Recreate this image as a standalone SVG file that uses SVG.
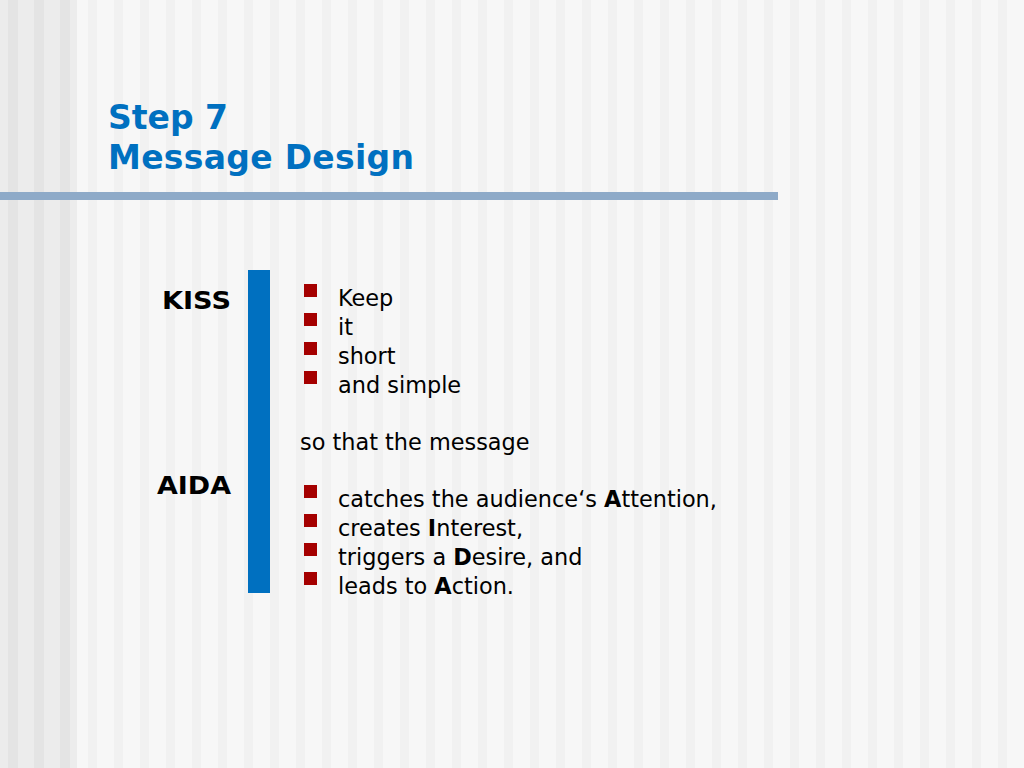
<svg xmlns="http://www.w3.org/2000/svg" width="1024" height="768" viewBox="0 0 1024 768">
<defs>
<pattern id="stripesL" x="0" y="0" width="26" height="768" patternUnits="userSpaceOnUse">
<rect x="0" y="0" width="26" height="768" fill="#ececec"/>
<rect x="8" y="0" width="10" height="768" fill="#e4e4e4"/>
</pattern>
<pattern id="stripesR" x="0" y="0" width="26" height="768" patternUnits="userSpaceOnUse">
<rect x="0" y="0" width="26" height="768" fill="#f7f7f7"/>
<rect x="10" y="0" width="9" height="768" fill="#f1f1f1"/>
</pattern>
<style>
.title{font-family:"DejaVu Sans",Verdana,sans-serif;font-weight:bold;font-size:33px;fill:#0070c0}
.lbl{font-family:"DejaVu Sans",Verdana,sans-serif;font-weight:bold;font-size:24px;fill:#000}
.body{font-family:"DejaVu Sans",Verdana,sans-serif;font-size:22.4px;fill:#000}
.bul{fill:#a50000}
</style>
</defs>
<rect x="0" y="0" width="1024" height="768" fill="url(#stripesR)"/>
<rect x="0" y="0" width="77" height="768" fill="url(#stripesL)"/>
<rect x="0" y="192" width="778" height="8" fill="#8eaac8"/>
<g id="title">
<text class="title" x="108" y="129">Step 7</text>
<text class="title" x="108" y="169" textLength="306">Message Design</text>
</g>
<g id="kiss"><text class="lbl" x="162" y="309" textLength="69" lengthAdjust="spacingAndGlyphs">KISS</text></g>
<g id="aida"><text class="lbl" x="157" y="494" textLength="74" lengthAdjust="spacingAndGlyphs">AIDA</text></g>
<g id="bar"><rect x="248" y="270" width="22" height="323" fill="#0070c0"/></g>
<g id="kiss-list">
<rect class="bul" x="304" y="284" width="13" height="13"/>
<rect class="bul" x="304" y="313" width="13" height="13"/>
<rect class="bul" x="304" y="342" width="13" height="13"/>
<rect class="bul" x="304" y="371" width="13" height="13"/>
<text class="body" x="338" y="306">Keep</text>
<text class="body" x="338" y="335">it</text>
<text class="body" x="338" y="364">short</text>
<text class="body" x="338" y="393">and simple</text>
</g>
<g id="middle"><text class="body" x="300" y="450">so that the message</text></g>
<g id="aida-list">
<rect class="bul" x="304" y="485" width="13" height="13"/>
<rect class="bul" x="304" y="514" width="13" height="13"/>
<rect class="bul" x="304" y="543" width="13" height="13"/>
<rect class="bul" x="304" y="572" width="13" height="13"/>
<text class="body" x="338" y="507">catches the audience‘s <tspan font-weight="bold">A</tspan>ttention,</text>
<text class="body" x="338" y="536">creates <tspan font-weight="bold">I</tspan>nterest,</text>
<text class="body" x="338" y="565">triggers a <tspan font-weight="bold">D</tspan>esire, and</text>
<text class="body" x="338" y="594">leads to <tspan font-weight="bold">A</tspan>ction.</text>
</g>
</svg>
